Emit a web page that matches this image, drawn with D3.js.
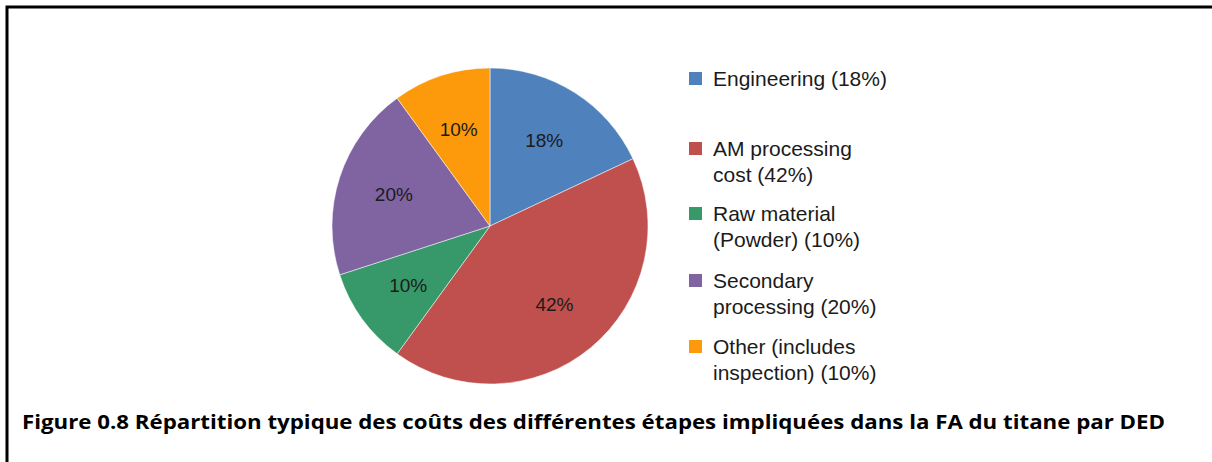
<!DOCTYPE html>
<html>
<head>
<meta charset="utf-8">
<script src="https://d3js.org/d3.v7.min.js"></script>
<style>
  body { margin: 0; background: #fff; }
  svg { display: block; }
</style>
</head>
<body>
<script>
    // chart data
    let categories = ["Engineering", "AM processing cost", "Raw material (Powder)", "Secondary processing", "Other (includes inspection)"];
    let values = [18, 42, 10, 20, 10];
    let legendLines = [
        ["Engineering (18%)"],
        ["AM processing", "cost (42%)"],
        ["Raw material", "(Powder) (10%)"],
        ["Secondary", "processing (20%)"],
        ["Other (includes", "inspection) (10%)"]
    ];
    let colors = ["#4f81bd", "#c0504d", "#37996a", "#8064a2", "#fd9a0b"];
    let caption = "Figure 0.8 Répartition typique des coûts des différentes étapes impliquées dans la FA du titane par DED";

    let width = 1212, height = 462;
    let cx = 490, cy = 226, radius = 158;

    let svg = d3.select("body").append("svg")
        .attr("width", width)
        .attr("height", height);

    // frame (only top and left edges fall inside the crop)
    svg.append("rect")
        .attr("x", 7).attr("y", 7)
        .attr("width", width + 20).attr("height", height + 20)
        .attr("fill", "none")
        .attr("stroke", "#000")
        .attr("stroke-width", 3);

    let pie = d3.pie().sort(null).value(d => d);
    let arcs = pie(values);
    let arc = d3.arc().innerRadius(0).outerRadius(radius);
    let labelArc = d3.arc().innerRadius(radius * 0.64).outerRadius(radius * 0.64);

    let g = svg.append("g").attr("transform", `translate(${cx},${cy})`);

    g.selectAll("path.slice")
        .data(arcs)
        .enter().append("path")
        .attr("class", "slice")
        .attr("d", arc)
        .attr("fill", (d, i) => colors[i])
        .attr("stroke", "#fff")
        .attr("stroke-width", 0.5);

    g.selectAll("text.pct")
        .data(arcs)
        .enter().append("text")
        .attr("class", "pct")
        .attr("transform", d => `translate(${labelArc.centroid(d)})`)
        .attr("text-anchor", "middle")
        .attr("dy", "0.35em")
        .attr("font-family", "Liberation Sans, Arial, sans-serif")
        .attr("font-size", 19)
        .attr("fill", "#1b1b1b")
        .text(d => d.data + "%");

    // legend
    let legendTops = [0, 70, 135, 202, 268];
    let legend = svg.append("g").attr("transform", "translate(689,72)");
    let item = legend.selectAll("g.item")
        .data(legendLines)
        .enter().append("g")
        .attr("class", "item")
        .attr("transform", (d, i) => `translate(0,${legendTops[i]})`);

    item.append("rect")
        .attr("width", 13).attr("height", 13)
        .attr("fill", (d, i) => colors[i]);

    item.selectAll("text")
        .data(d => d)
        .enter().append("text")
        .attr("x", 24)
        .attr("y", (d, j) => 14 + j * 26)
        .attr("font-family", "Liberation Sans, Arial, sans-serif")
        .attr("font-size", 21)
        .attr("fill", "#1b1b1b")
        .text(d => d);

    // caption
    svg.append("text")
        .attr("x", 22)
        .attr("y", 429)
        .attr("font-family", "Open Sans, sans-serif")
        .attr("font-weight", "bold")
        .attr("font-size", 20)
        .attr("textLength", 1143)
        .attr("lengthAdjust", "spacingAndGlyphs")
        .attr("fill", "#000")
        .text(caption);
</script>
</body>
</html>
